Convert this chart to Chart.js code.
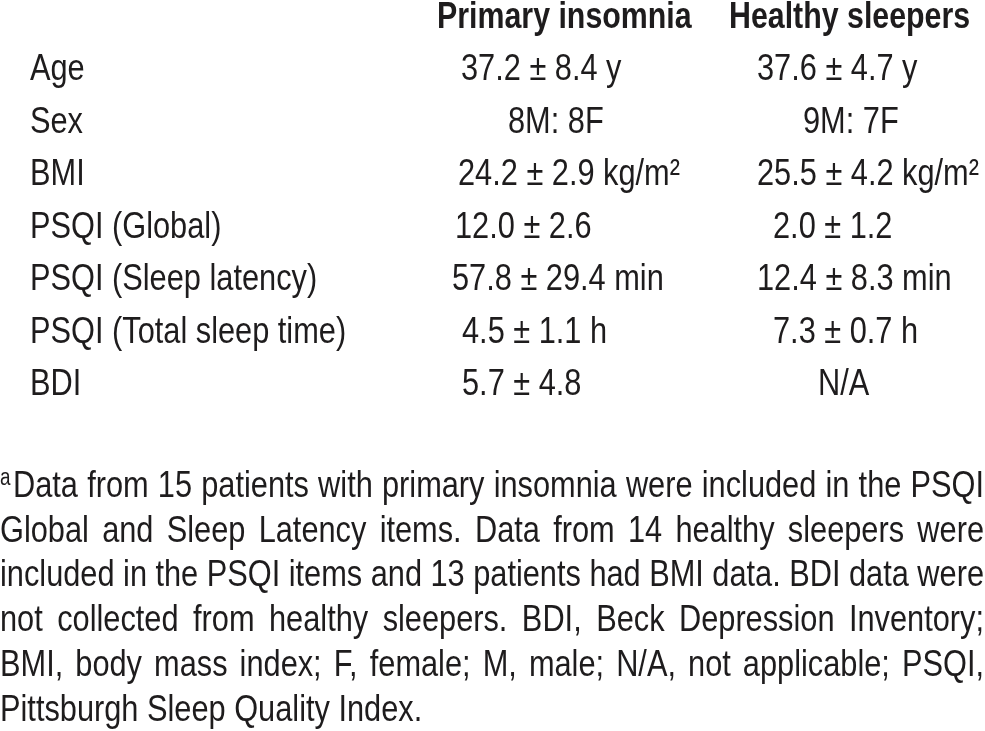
<!DOCTYPE html>
<html>
<head>
<meta charset="utf-8">
<script src="https://cdn.jsdelivr.net/npm/chart.js@4.4.0/dist/chart.umd.min.js"></script>
<style>
    html, body { margin: 0; padding: 0; background: #fff; }
    #wrap { width: 985px; height: 731px; }
</style>
</head>
<body>
<div id="wrap"><canvas id="tabla" width="985" height="731"></canvas></div>
<script>
// data
var groups = ['Primary insomnia', 'Healthy sleepers'];
var rowLabels = ['Age', 'Sex', 'BMI', 'PSQI (Global)', 'PSQI (Sleep latency)', 'PSQI (Total sleep time)', 'BDI'];
var insomniaValues = ['37.2 ± 8.4 y', '8M: 8F', '24.2 ± 2.9 kg/m²', '12.0 ± 2.6', '57.8 ± 29.4 min', '4.5 ± 1.1 h', '5.7 ± 4.8'];
var healthyValues = ['37.6 ± 4.7 y', '9M: 7F', '25.5 ± 4.2 kg/m²', '2.0 ± 1.2', '12.4 ± 8.3 min', '7.3 ± 0.7 h', 'N/A'];
var footnoteMark = 'a';
var footnoteLines = [
    'Data from 15 patients with primary insomnia were included in the PSQI',
    'Global and Sleep Latency items. Data from 14 healthy sleepers were',
    'included in the PSQI items and 13 patients had BMI data. BDI data were',
    'not collected from healthy sleepers. BDI, Beck Depression Inventory;',
    'BMI, body mass index; F, female; M, male; N/A, not applicable; PSQI,',
    'Pittsburgh Sleep Quality Index.'
];

// layout
var colLeft = [30, 452, 757];
var headerLeft = [437, 729];
var insomniaIndent = [9, 56, 6, 3, 0, 10, 10];
var healthyIndent = [0, 46, 0, 16, 0, 16, 61];
var textColor = '#1e1c1d';
var fontSize = 37.5;

function hasFont(name) {
    var c = document.createElement('canvas').getContext('2d');
    var s = 'abcdefghijklmnopqrstuvwxyz0123456789';
    c.font = '40px monospace';
    var a = c.measureText(s).width;
    c.font = "40px '" + name + "', monospace";
    var b = c.measureText(s).width;
    return a !== b;
}

var narrow = hasFont('Liberation Sans Narrow');
var family = narrow ? "'Liberation Sans Narrow', sans-serif" : "'Liberation Sans', Arial, sans-serif";
var sx = narrow ? 1 : 0.82;

function fontOf(size, bold) {
    return (bold ? 'bold ' : '') + size + 'px ' + family;
}

function medir(ctx, s, font) {
    ctx.font = font;
    return ctx.measureText(s).width * sx;
}

function escribir(ctx, s, x, y, font) {
    ctx.save();
    ctx.font = font;
    ctx.fillStyle = textColor;
    ctx.textBaseline = 'alphabetic';
    ctx.textAlign = 'left';
    ctx.translate(x, y);
    ctx.scale(sx, 1);
    ctx.fillText(s, 0, 0);
    ctx.restore();
}

function puntos(xPos, values) {
    return values.map(function (v, i) { return { x: xPos, y: i + 1 }; });
}

var tablePlugin = {
    id: 'tablePlugin',
    afterDraw: function (chart) {
        var ctx = chart.ctx;
        var yScale = chart.scales.y;
        var xScale = chart.scales.x;
        var font = fontOf(fontSize, false);
        var bold = fontOf(37, true);

        // headers
        groups.forEach(function (g, i) {
            escribir(ctx, g, xScale.getPixelForValue(headerLeft[i]), yScale.getPixelForValue(0), bold);
        });

        // cells
        var meta0 = chart.getDatasetMeta(0);
        var meta1 = chart.getDatasetMeta(1);
        var meta2 = chart.getDatasetMeta(2);
        rowLabels.forEach(function (r, i) {
            escribir(ctx, r, meta0.data[i].x, meta0.data[i].y, font);
            escribir(ctx, insomniaValues[i], meta1.data[i].x + insomniaIndent[i], meta1.data[i].y, font);
            escribir(ctx, healthyValues[i], meta2.data[i].x + healthyIndent[i], meta2.data[i].y, font);
        });

        // footnote, justified
        var left = 0;
        var right = 984;
        var base = chart.chartArea.bottom + 102;
        var lineGap = 44.7;
        escribir(ctx, footnoteMark, 0, base - 12, fontOf(23, false));
        footnoteLines.forEach(function (line, i) {
            var y = base + i * lineGap;
            var x0 = i === 0 ? 13 : left;
            var words = line.split(' ');
            var wordsW = words.reduce(function (acc, w) { return acc + medir(ctx, w, font); }, 0);
            var gap = medir(ctx, ' ', font);
            if (i < footnoteLines.length - 1 && words.length > 1) {
                gap = (right - x0 - wordsW) / (words.length - 1);
            }
            var x = x0;
            words.forEach(function (w) {
                escribir(ctx, w, x, y, font);
                x += medir(ctx, w, font) + gap;
            });
        });
    }
};

var ctx = document.getElementById('tabla').getContext('2d');
window.chart = new Chart(ctx, {
    type: 'scatter',
    data: {
        datasets: [
            { label: 'Characteristic', data: puntos(colLeft[0], rowLabels), pointRadius: 0 },
            { label: groups[0], data: puntos(colLeft[1], insomniaValues), pointRadius: 0 },
            { label: groups[1], data: puntos(colLeft[2], healthyValues), pointRadius: 0 }
        ]
    },
    options: {
        responsive: false,
        animation: false,
        events: [],
        layout: { padding: { top: 28, bottom: 336, left: 0, right: 0 } },
        plugins: {
            legend: { display: false },
            tooltip: { enabled: false }
        },
        scales: {
            x: { type: 'linear', min: 0, max: 985, display: false },
            y: { type: 'linear', min: 0, max: rowLabels.length, reverse: true, display: false }
        }
    },
    plugins: [tablePlugin]
});
</script>
</body>
</html>
